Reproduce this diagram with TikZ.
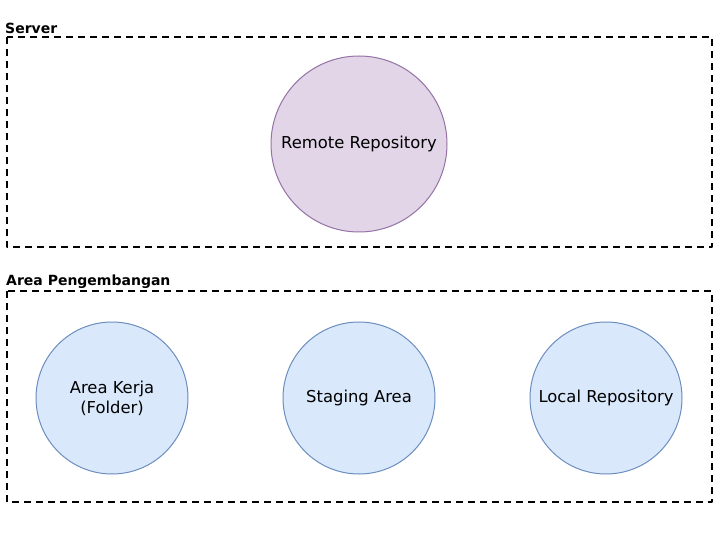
\documentclass[tikz,border=0pt]{standalone}
\usepackage{fontspec}
\setmainfont{DejaVu Sans}
\definecolor{purfill}{HTML}{E1D5E7}
\definecolor{purline}{HTML}{9673A6}
\definecolor{bluefill}{HTML}{DAE8FC}
\definecolor{blueline}{HTML}{6C8EBF}
\tikzset{
	area/.style={draw=black, line width=2pt, dash pattern=on 7pt off 5pt},
	arealabel/.style={font=\bfseries\fontsize{14}{16}\selectfont, anchor=base west, inner sep=0pt},
	remote/.style={circle, draw=purline, fill=purfill, line width=1pt, minimum size=176pt, inner sep=0pt, align=center, font=\fontsize{16.4}{20}\selectfont},
	local/.style={circle, draw=blueline, fill=bluefill, line width=1pt, minimum size=152pt, inner sep=0pt, align=center, font=\fontsize{16.4}{20}\selectfont}
}
\begin{document}
\begin{tikzpicture}[x=1pt, y=-1pt, line join=round]
		\def\xl{7} \def\xr{712}
		\useasboundingbox (0,0) rectangle (720,540);
		%\draw[color=gray!50,dashed] (0,0) grid (720,540);
		\draw[area] (\xl,37) rectangle (\xr,247);
		\node[arealabel] (server) at (5,33.5) {Server};
		\node[remote] (remote) at (359,144) {\raisebox{-2pt}{Remote Repository}};
		\draw[area] (\xl,291) rectangle (\xr,502);
		\node[arealabel] (dev) at (6,285.5) {Area Pengembangan};
		\node[local] (kerja) at (112,398) {Area Kerja\\(Folder)};
		\node[local] (staging) at (359,398) {\raisebox{-2pt}{Staging Area}};
		\node[local] (localrepo) at (606,398) {\raisebox{-2pt}{Local Repository}};
		\end{tikzpicture}
\end{document}
